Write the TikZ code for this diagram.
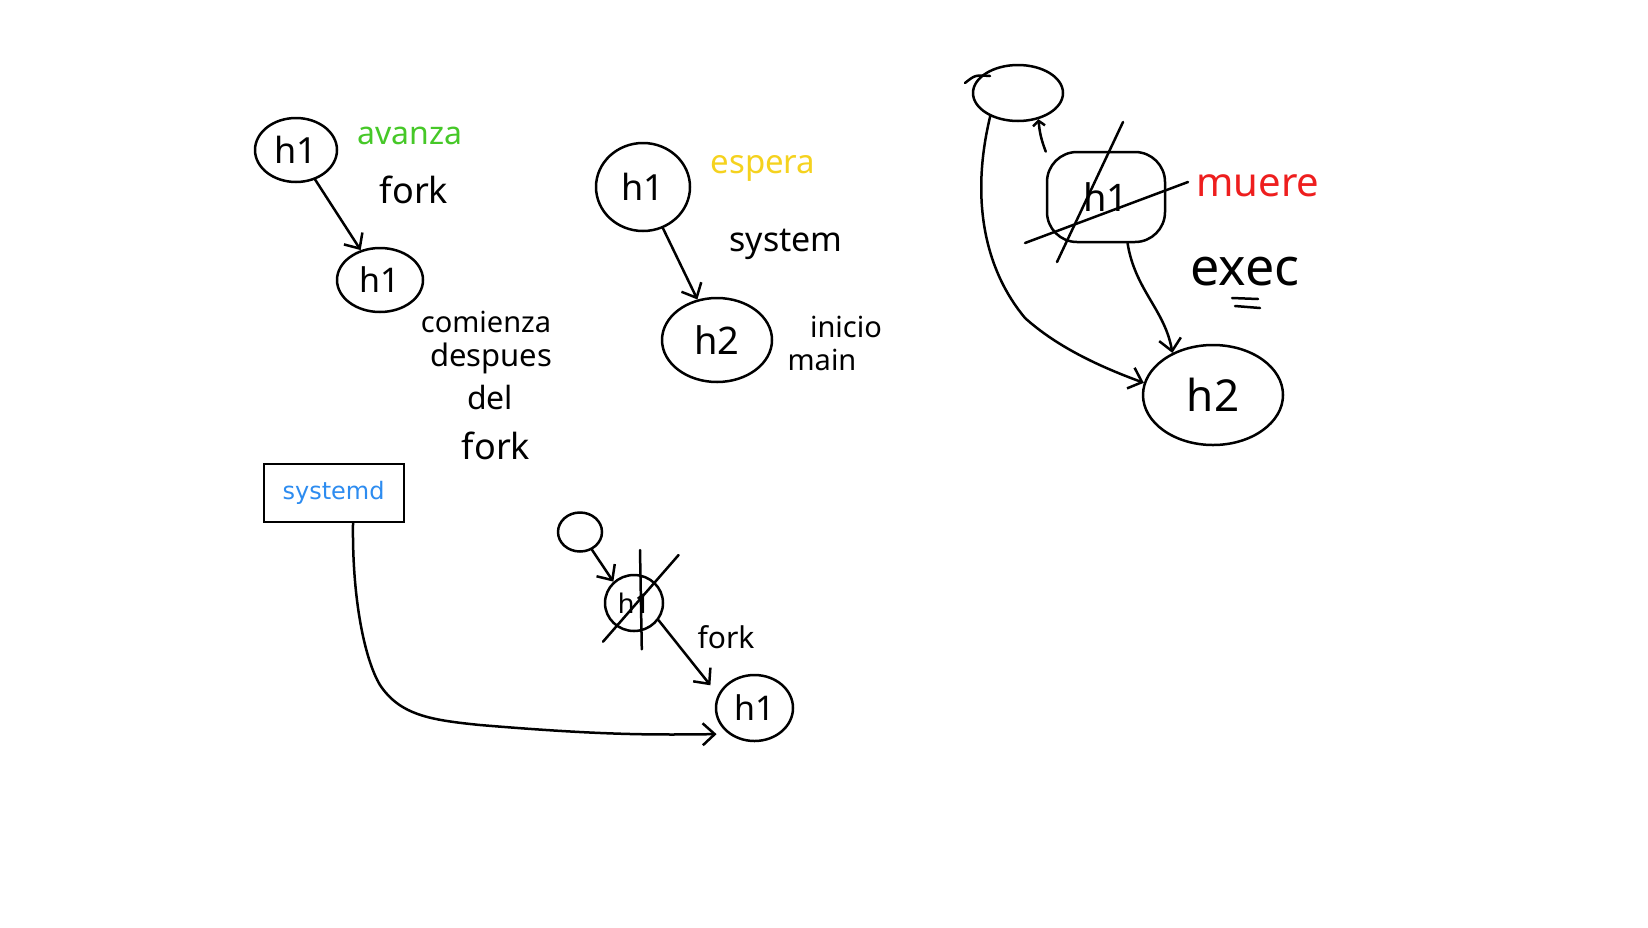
\documentclass[tikz,border=0pt]{standalone}
\usepackage{fontspec}
\usetikzlibrary{shapes.geometric,arrows.meta}
\newfontfamily\handfont{Noto Sans}
\newfontfamily\sysfont{DejaVu Sans}
\newcommand{\myfs}[1]{\fontsize{#1}{#1}\selectfont}
\definecolor{hgreen}{RGB}{70,200,40}
\definecolor{hyellow}{RGB}{245,210,30}
\definecolor{hred}{RGB}{238,30,30}
\definecolor{hblue}{RGB}{45,140,240}
\tikzset{
  pen/.style={line width=2.5pt, line cap=round, line join=round},
  proc/.style={pen, draw, ellipse, inner sep=0pt},
  arr/.style={pen, -{Straight Barb[length=12pt,width=22pt]}},
  hw/.style={inner sep=0pt, font=\handfont\myfs{#1}},
}
\begin{document}
\begin{tikzpicture}[x=1pt,y=-1pt]
\useasboundingbox[fill=white] (0,0) rectangle (1648,927);

% ---- group 1: fork
\node[proc, minimum width=82pt, minimum height=64pt, font=\handfont\myfs{36}] (A) at (296,150) {h1};
\node[proc, minimum width=86pt, minimum height=64pt, font=\handfont\myfs{34}] (B) at (380,280) {h1};
\draw[arr] (A) -- (B);
\node[hw=32, text=hgreen] (tavanza) at (410,136) {avanza};
\node[hw=36] (tfork1) at (414,190) {fork};
\node[hw=29] (tcom) at (486,322) {comienza};
\node[hw=31] (tdes) at (491,358) {despues};
\node[hw=32] (tdel) at (490,397) {del};
\node[hw=36] (tfork2) at (496,446) {fork};

% ---- group 2: system
\node[proc, minimum width=94pt, minimum height=88pt, font=\handfont\myfs{36}] (C) at (643,187) {h1};
\node[proc, minimum width=110pt, minimum height=84pt, font=\handfont\myfs{38}] (D) at (717,340) {h2};
\draw[arr] (C) -- (D);
\node[hw=33, text=hyellow] (tespera) at (763,168) {espera};
\node[hw=34] (tsystem) at (786,244) {system};
\node[hw=29] (tinicio) at (846,327) {inicio};
\node[hw=29] (tmain) at (822,360) {main};

% ---- group 3: exec
\node[proc, minimum width=90pt, minimum height=56pt] (E) at (1018,93) {};
\draw[pen] (965,83) .. controls (975,75) .. (990,76);
\node[pen, draw, rectangle, rounded corners=30pt, minimum width=118pt, minimum height=90pt, font=\handfont\myfs{38}] (F) at (1106,197) {h1};
\node[proc, minimum width=140pt, minimum height=100pt, font=\handfont\myfs{44}] (G) at (1213,395) {h2};
\draw[pen, -{Straight Barb[length=5pt,width=12pt]}] (F.143) to[bend left=8] (E.-52);
\draw[arr] (E.220) .. controls (970,200) and (985,270) .. (1025,318)
  .. controls (1055,345) and (1095,365) .. (G.170);
\draw[arr] (F.-65) .. controls (1135,290) and (1165,310) .. (G.134);
\coordinate (fx1) at (1123,122); \coordinate (fx2) at (1057,262);
\coordinate (fx3) at (1025,243); \coordinate (fx4) at (1188,182);
\draw[pen] (fx1) -- (fx2);
\draw[pen] (fx3) -- (fx4);
\node[hw=40, text=hred] (tmuere) at (1258,186) {muere};
\node[hw=52] (texec) at (1245,272) {exec};
\draw[pen] (1232,298) -- (1258,299);
\draw[pen] (1235,306) -- (1260,308);

% ---- group 4: systemd
\node[draw, line width=1.8pt, minimum width=140pt, minimum height=58pt, font=\sysfont\myfs{24}, text=hblue] (H) at (333.6,493) {systemd};
\node[proc, minimum width=44pt, minimum height=39pt] (L) at (580,532) {};
\node[proc, minimum width=58pt, minimum height=56pt, font=\handfont\myfs{27}] (M) at (634,603) {h1};
\node[proc, minimum width=77pt, minimum height=66pt, font=\handfont\myfs{34}] (K) at (754.5,708) {h1};
\draw[arr] (L) -- (M.134);
\draw[arr, shorten >=12pt] (M.-35) -- (K.160);
\draw[arr, shorten >=12pt] (H.-57) .. controls (352,600) and (365,660) .. (380,685)
  .. controls (400,715) and (430,720) .. (480,725)
  .. controls (600,735) and (650,735) .. (K.225);
\coordinate (mx1) at (640,550); \coordinate (mx2) at (641.8,649.3);
\coordinate (mx3) at (603,641.7); \coordinate (mx4) at (678.6,555);
\draw[pen] (mx1) -- (mx2);
\draw[pen] (mx3) -- (mx4);
\node[hw=30] (tfork3) at (726,637) {fork};
\end{tikzpicture}
\end{document}
